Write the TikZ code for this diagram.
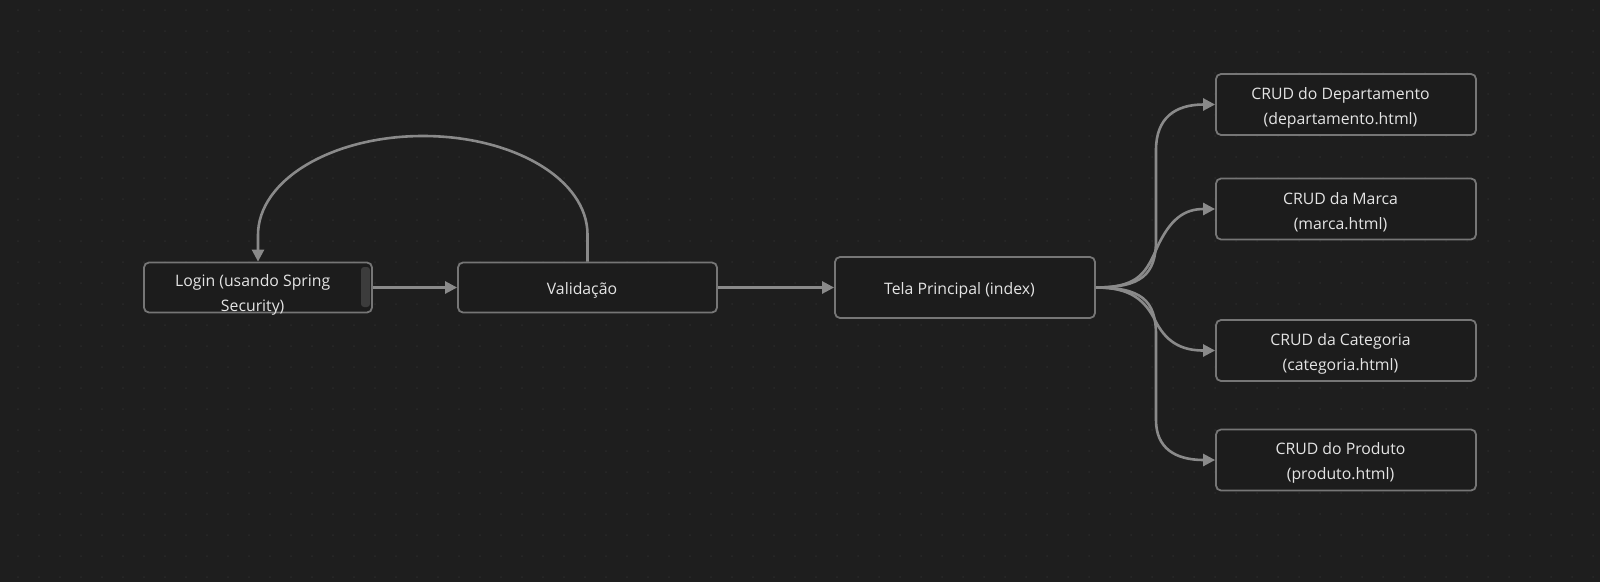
\documentclass[tikz,border=0pt]{standalone}
\usepackage{fontspec}
\setmainfont{Open Sans}
\usetikzlibrary{arrows.meta}
\definecolor{bgc}{HTML}{1E1E1E}
\definecolor{dotc}{HTML}{2A2A2A}
\definecolor{boxfill}{HTML}{1C1C1C}
\definecolor{boxline}{HTML}{767676}
\definecolor{edgec}{HTML}{8A8A8A}
\definecolor{txtc}{HTML}{E4E4E4}
\definecolor{scrollc}{HTML}{3C3C3C}
\tikzset{
  box/.style={draw=boxline, line width=1.8pt, fill=boxfill, rounded corners=5pt,
    minimum width=260pt, minimum height=61pt, inner sep=0pt},
  lbl/.style={inner sep=0pt, text=txtc, align=center, font=\fontsize{15.8}{25}\selectfont},
  edge/.style={draw=edgec, line width=2.6pt, -{Triangle[length=12pt,width=12pt]}},
}
\begin{document}
\begin{tikzpicture}[x=1pt,y=-1pt]
\fill[bgc] (0,0) rectangle (1600,582);
\useasboundingbox (0,0) rectangle (1600,582);
\foreach \i in {0,...,75}{\foreach \j in {0,...,27}{\fill[dotc] ({18+21*\i},{10+21*\j}) circle (1);}}
% nodes
\node[box, minimum width=228pt, minimum height=50pt] (login) at (258,287.5) {};
\node[lbl] (logintxt) at (252.7,295) {Login (usando Spring\\Security)};
\fill[scrollc, rounded corners=3pt] (361,267) rectangle (370,307);
\node[box, minimum width=259pt, minimum height=50pt] (valid) at (587.5,287.5) {};
\node[lbl] (validtxt) at ([xshift=-5.5pt,yshift=-2.5pt]valid.center) {Validação};
\node[box] (tela) at (965,287.5) {};
\node[lbl] (telatxt) at ([xshift=-5.5pt,yshift=-2.5pt]tela.center) {Tela Principal (index)};
\node[box] (dep) at (1346,104.5) {};
\node[lbl] (deptxt) at ([xshift=-5.5pt,yshift=-3pt]dep.center) {CRUD do Departamento\\(departamento.html)};
\node[box] (marca) at (1346,209) {};
\node[lbl] (marcatxt) at ([xshift=-5.5pt,yshift=-3pt]marca.center) {CRUD da Marca\\(marca.html)};
\node[box] (cat) at (1346,350.5) {};
\node[lbl] (cattxt) at ([xshift=-5.5pt,yshift=-3pt]cat.center) {CRUD da Categoria\\(categoria.html)};
\node[box] (prod) at (1346,460) {};
\node[lbl] (prodtxt) at ([xshift=-5.5pt,yshift=-3pt]prod.center) {CRUD do Produto\\(produto.html)};
% edges
\draw[edge] (login.east) -- (valid.west);
\draw[edge] (valid.east) -- (tela.west);
\draw[edge] (valid.north) -- ++(0,-27) .. controls ++(0,-55) and (514,136) .. (423,136)
  .. controls (332,136) and (258,180) .. (258,235) -- (login.north);
\draw[edge] (tela.east) .. controls ++(45,0) and (1156,275) .. (1156,240) -- (1156,150)
  .. controls (1156,118) and (1175,104.5) .. (dep.west);
\draw[edge] (tela.east) .. controls ++(40,0) and (1145,275) .. (1156,250)
  .. controls (1170,218) and (1185,209) .. (marca.west);
\draw[edge] (tela.east) .. controls ++(35,0) and (1145,300) .. (1156,322)
  .. controls (1168,345) and (1185,350.5) .. (cat.west);
\draw[edge] (tela.east) .. controls ++(45,0) and (1156,300) .. (1156,335) -- (1156,420)
  .. controls (1156,448) and (1175,460) .. (prod.west);
\end{tikzpicture}
\end{document}
